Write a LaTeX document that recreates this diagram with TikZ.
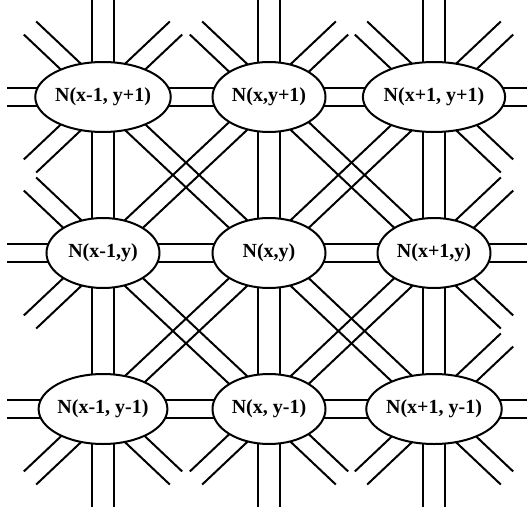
\documentclass[tikz,border=0pt]{standalone}
\usepackage{fontspec}
\setmainfont{Liberation Serif}
\usepackage{tikz}
\usetikzlibrary{shapes.geometric, calc, backgrounds}
% two parallel strokes between two points, #1 = half gap
\newcommand{\twin}[3]{%
  \draw[strand] ($(#2)!#1!90:(#3)$) -- ($(#3)!#1!-90:(#2)$);
  \draw[strand] ($(#2)!#1!-90:(#3)$) -- ($(#3)!#1!90:(#2)$);
}

\begin{document}
\begin{tikzpicture}[
  x=1pt, y=-1pt,
  cell/.style={ellipse, draw, fill=white, line width=2pt, minimum width=113pt, minimum height=70pt, inner sep=0pt, font=\bfseries\fontsize{20}{24}\selectfont},
  strand/.style={line width=2pt}
]
  \useasboundingbox (0,0) rectangle (527,514);

  \node[cell] (nw) at (103,97)  {N(x-1, y+1)};
  \node[cell] (n)  at (269,97)  {N(x,y+1)};
  \node[cell] (ne) at (434,97)  {N(x+1, y+1)};
  \node[cell] (w)  at (103,253) {N(x-1,y)};
  \node[cell] (c)  at (269,253) {N(x,y)};
  \node[cell] (e)  at (434,253) {N(x+1,y)};
  \node[cell] (sw) at (103,409) {N(x-1, y-1)};
  \node[cell] (s)  at (269,409) {N(x, y-1)};
  \node[cell] (se) at (434,409) {N(x+1, y-1)};

  \begin{scope}[on background layer]
    \clip (0,0) rectangle (527,514);
    % links between neighbours
    \twin{9pt}{nw}{n}  \twin{9pt}{n}{ne}
    \twin{9pt}{w}{c}   \twin{9pt}{c}{e}
    \twin{9pt}{sw}{s}  \twin{9pt}{s}{se}
    \twin{11pt}{nw}{w} \twin{11pt}{w}{sw}
    \twin{11pt}{n}{c}  \twin{11pt}{c}{s}
    \twin{11pt}{ne}{e} \twin{11pt}{e}{se}
    \twin{9pt}{nw}{c} \twin{9pt}{n}{w}
    \twin{9pt}{n}{e}  \twin{9pt}{ne}{c}
    \twin{9pt}{w}{s}  \twin{9pt}{c}{sw}
    \twin{9pt}{c}{se} \twin{9pt}{e}{s}
    % loose ends towards the outside
    \coordinate (up) at (0,-98);   \coordinate (down) at (0,98);
    \coordinate (left) at (-96,0); \coordinate (right) at (96,0);
    \coordinate (ul) at (-73,-69); \coordinate (ur) at (73,-69);
    \coordinate (dl) at (-73,69);  \coordinate (dr) at (73,69);
    \foreach \nd/\dir/\gap in {nw/up/11, n/up/11, ne/up/11,
        sw/down/11, s/down/11, se/down/11,
        nw/left/9, w/left/9, sw/left/9,
        ne/right/9, e/right/9, se/right/9,
        nw/ul/9, n/ul/9, ne/ul/9, nw/ur/9, n/ur/9, ne/ur/9,
        nw/dl/9, w/ul/9, w/dl/9, sw/dl/9, s/dl/9, se/dl/9,
        sw/dr/9, s/dr/9, se/dr/9, ne/dr/9, e/ur/9, e/dr/9, se/ur/9}
    {
      \coordinate (\nd-\dir) at ($(\nd)+(\dir)$);
      \twin{\gap pt}{\nd}{\nd-\dir}
    }
  \end{scope}
\end{tikzpicture}
\end{document}
